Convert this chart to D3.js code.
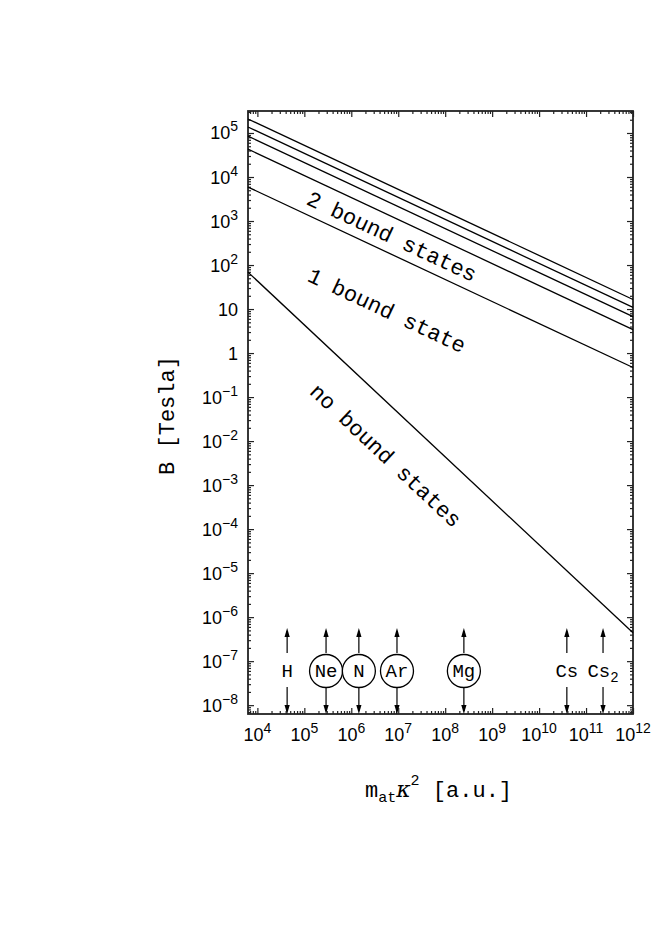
<!DOCTYPE html>
<html>
<head>
<meta charset="utf-8">
<script src="https://cdn.jsdelivr.net/npm/d3@7"></script>
<style>
  body { margin: 0; background: #fff; }
  svg { display: block; }
  .tick-label { font-family: "Liberation Sans", Arial, sans-serif; font-size: 18px; fill: #000; }
  .mono { font-family: "Liberation Mono", "Courier New", monospace; fill: #000; }
</style>
</head>
<body>
<script>
'use strict';

// axis ranges (log10 decades shown on the frame)
const xDomain = [6.31e3, 1e12];
const yDomain = [6.3e-9, 3.16e5];
const xMajor = [1e4, 1e5, 1e6, 1e7, 1e8, 1e9, 1e10, 1e11, 1e12];
const yMajor = [1e-8, 1e-7, 1e-6, 1e-5, 1e-4, 1e-3, 1e-2, 1e-1, 1, 10, 1e2, 1e3, 1e4, 1e5];

// threshold curves, [x, B] at the two frame edges
const curveNone = [[6.31e3, 69], [1e12, 4.4e-7]];
const curveOne = [[6.31e3, 5900], [1e12, 0.47]];
const curveTwo = [[6.31e3, 43000], [1e12, 3.42]];
const curveThree = [[6.31e3, 85000], [1e12, 6.7]];
const curveFour = [[6.31e3, 137000], [1e12, 10.9]];
const curveFive = [[6.31e3, 208000], [1e12, 16.5]];
const curves = [curveNone, curveOne, curveTwo, curveThree, curveFour, curveFive];

// region labels: text, position [x, B], curve that gives the slope
const regionText = ['2 bound states', '1 bound state', 'no bound states'];
const regionPos = [[7.4e6, 457], [5.8e6, 9.5], [5.5e6, 4.8e-3]];
const regionCurve = [curveOne, curveOne, curveNone];

// atoms / molecules marked along the x axis
const species = ['H', 'Ne', 'N', 'Ar', 'Mg', 'Cs', 'Cs'];
const speciesSub = ['', '', '', '', '', '', '2'];
const speciesX = [4.3e4, 2.9e5, 1.45e6, 9.4e6, 2.5e8, 3.9e10, 2.3e11];
const speciesCircled = [false, true, true, true, true, false, false];

const W = 664, H = 937;
const margin = { left: 248, top: 111, right: 31, bottom: 223 };
const pw = W - margin.left - margin.right;
const ph = H - margin.top - margin.bottom;

const svg = d3.select('body').append('svg')
  .attr('width', W)
  .attr('height', H);

const x = d3.scaleLog().domain(xDomain).range([0, pw]);
const y = d3.scaleLog().domain(yDomain).range([ph, 0]);

const g = svg.append('g').attr('transform', `translate(${margin.left},${margin.top})`);

// minor ticks: 2..9 inside each decade
function minors(domain) {
  const out = [];
  const lo = Math.floor(Math.log10(domain[0])), hi = Math.ceil(Math.log10(domain[1]));
  for (let e = lo; e < hi; e++) {
    for (let m = 2; m <= 9; m++) {
      const v = m * Math.pow(10, e);
      if (v > domain[0] && v < domain[1]) out.push(v);
    }
  }
  return out;
}

function drawAxis(axisFn, scale, vals, size, transform) {
  const a = g.append('g')
    .attr('transform', transform || null)
    .call(axisFn(scale).tickValues(vals).tickSize(-size).tickFormat(''));
  a.select('.domain').remove();
  a.selectAll('line').attr('stroke', '#222').attr('stroke-width', 1.2);
}

const xMin = minors(xDomain), yMin = minors(yDomain);
drawAxis(d3.axisBottom, x, xMajor, 6, `translate(0,${ph})`);
drawAxis(d3.axisBottom, x, xMin, 3, `translate(0,${ph})`);
drawAxis(d3.axisTop, x, xMajor, 6);
drawAxis(d3.axisTop, x, xMin, 3);
drawAxis(d3.axisLeft, y, yMajor, 6);
drawAxis(d3.axisLeft, y, yMin, 3);
drawAxis(d3.axisRight, y, yMajor, 6, `translate(${pw},0)`);
drawAxis(d3.axisRight, y, yMin, 3, `translate(${pw},0)`);

// frame
g.append('rect')
  .attr('width', pw).attr('height', ph)
  .attr('fill', 'none').attr('stroke', '#222').attr('stroke-width', 1.8);

// tick labels
function powerLabel(sel, v) {
  const e = Math.round(Math.log10(v));
  if (e === 0) { sel.text('1'); return; }
  if (e === 1) { sel.text('10'); return; }
  sel.append('tspan').text('10');
  sel.append('tspan').attr('dy', -8).style('font-size', '14px')
    .text(e < 0 ? '\u2212' + (-e) : String(e));
}

yMajor.forEach(v => {
  const t = g.append('text').attr('class', 'tick-label')
    .attr('x', -10).attr('y', y(v) + 6.5)
    .attr('text-anchor', 'end');
  powerLabel(t, v);
});

xMajor.forEach(v => {
  const t = g.append('text').attr('class', 'tick-label')
    .attr('x', x(v)).attr('y', ph + 27)
    .attr('text-anchor', 'middle');
  powerLabel(t, v);
});

// curves
const line = d3.line().x(d => x(d[0])).y(d => y(d[1]));
g.selectAll('path.curve')
  .data(curves)
  .join('path')
  .attr('class', 'curve')
  .attr('d', line)
  .attr('fill', 'none')
  .attr('stroke', '#000')
  .attr('stroke-width', 1.3);

// region labels, rotated along the curves
regionText.forEach((txt, i) => {
  const c = regionCurve[i];
  const ang = Math.atan2(y(c[1][1]) - y(c[0][1]), x(c[1][0]) - x(c[0][0])) * 180 / Math.PI;
  const px = x(regionPos[i][0]), py = y(regionPos[i][1]);
  g.append('text')
    .attr('class', 'mono')
    .attr('transform', `translate(${px},${py}) rotate(${ang})`)
    .attr('text-anchor', 'middle')
    .attr('dy', '0.35em')
    .style('font-size', '22px')
    .text(txt);
});

// species markers
const cy = ph - 43;
const arrowHead = (tx, ty, dir) => {
  // dir = -1 up, +1 down
  return `M${tx},${ty} L${tx - 2.6},${ty - dir * 9} L${tx + 2.6},${ty - dir * 9} Z`;
};
species.forEach((s, i) => {
  const px = x(speciesX[i]);
  const mg = g.append('g');
  mg.append('line').attr('x1', px).attr('x2', px).attr('y1', cy - 18).attr('y2', cy - 40)
    .attr('stroke', '#000').attr('stroke-width', 1.2);
  mg.append('path').attr('d', arrowHead(px, cy - 43, -1)).attr('fill', '#000');
  mg.append('line').attr('x1', px).attr('x2', px).attr('y1', cy + 16).attr('y2', ph - 3)
    .attr('stroke', '#000').attr('stroke-width', 1.2);
  mg.append('path').attr('d', arrowHead(px, ph, 1)).attr('fill', '#000');
  if (speciesCircled[i]) {
    mg.append('circle').attr('cx', px).attr('cy', cy).attr('r', 16.5)
      .attr('fill', '#fff').attr('stroke', '#000').attr('stroke-width', 1.3);
  }
  const t = mg.append('text').attr('class', 'mono')
    .attr('x', px).attr('y', cy + 6)
    .attr('text-anchor', 'middle')
    .style('font-size', '19px');
  t.append('tspan').text(s);
  if (speciesSub[i]) {
    t.append('tspan').attr('dy', 5).style('font-size', '14px').text(speciesSub[i]);
  }
});

// axis titles
svg.append('text')
  .attr('class', 'mono')
  .attr('transform', `translate(174,${margin.top + ph / 2 + 3}) rotate(-90)`)
  .attr('text-anchor', 'middle')
  .style('font-size', '22px')
  .text('B [Tesla]');

const xt = svg.append('text')
  .attr('class', 'mono')
  .attr('x', margin.left + pw / 2 - 2)
  .attr('y', 797)
  .attr('text-anchor', 'middle')
  .style('font-size', '22px');
xt.append('tspan').text('m');
xt.append('tspan').attr('dy', 5).style('font-size', '15px').text('at');
xt.append('tspan').attr('dy', -5).style('font-family', '"DejaVu Serif", serif')
  .style('font-style', 'italic').text('\u03ba');
xt.append('tspan').attr('dy', -12).style('font-size', '15px').text('2');
xt.append('tspan').attr('dy', 12).text(' [a.u.]');
</script>
</body>
</html>
